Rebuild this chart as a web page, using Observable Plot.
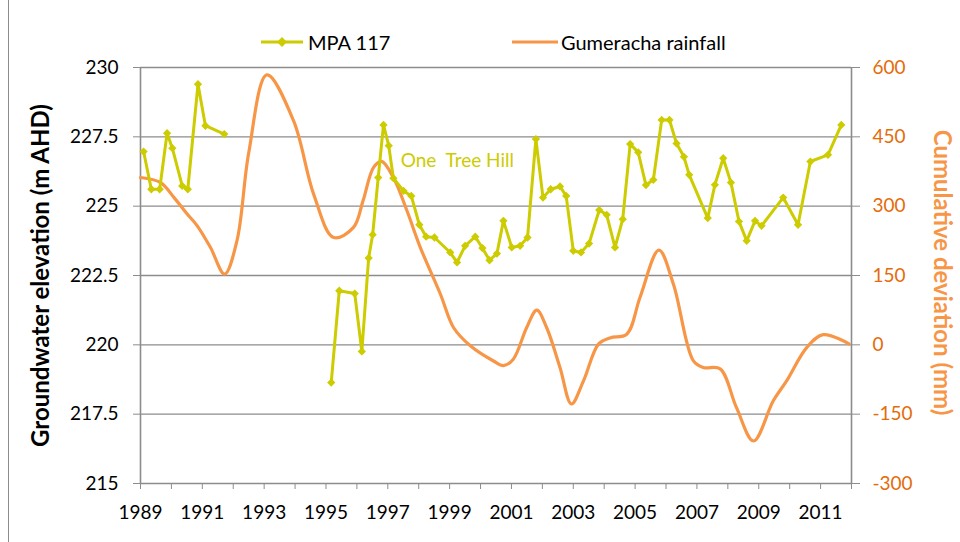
<!DOCTYPE html>
<html>
<head>
<meta charset="utf-8">
<script src="https://cdn.jsdelivr.net/npm/d3@7"></script>
<script src="https://cdn.jsdelivr.net/npm/@observablehq/plot@0.6"></script>
<style>
  body { margin: 0; background: #fff; }
  #wrap { position: relative; width: 960px; height: 542px; overflow: hidden; font-family: Lato, sans-serif; }
  #border { position: absolute; left: 8px; top: 0; width: 1px; height: 542px; background: #8c8c8c; }
  .leg { position: absolute; top: 30px; height: 24px; line-height: 24px; font-size: 20px; color: #000; white-space: nowrap; }
  .legsw { position: absolute; top: 30px; }
  #chart { position: absolute; left: 0; top: 0; }
</style>
</head>
<body>
<div id="wrap">
  <div id="chart"></div>
  <div id="border"></div>
  <svg class="legsw" style="left:261px" width="42" height="24"><line x1="0" x2="42" y1="12" y2="12" stroke="#CCCC00" stroke-width="3"/><rect x="17.5" y="8.5" width="7" height="7" fill="#CCCC00" transform="rotate(45 21 12)"/></svg>
  <div class="leg" style="left:308px">MPA 117</div>
  <svg class="legsw" style="left:512px" width="46" height="24"><line x1="0" x2="46" y1="12" y2="12" stroke="#F79646" stroke-width="3"/></svg>
  <div class="leg" style="left:561px">Gumeracha rainfall</div>
</div>
<script>
// ---- data ----
const mpaYear = [1989.1, 1989.35, 1989.62, 1989.86, 1990.03, 1990.35, 1990.53, 1990.86, 1991.10, 1991.71,
  1995.17, 1995.43, 1995.93, 1996.16, 1996.38, 1996.51, 1996.69, 1996.86, 1997.03, 1997.18, 1997.51, 1997.76,
  1998.02, 1998.24, 1998.51, 1999.02, 1999.24, 1999.50, 1999.83, 2000.06, 2000.29, 2000.53, 2000.74, 2001.01,
  2001.28, 2001.52, 2001.79, 2002.02, 2002.27, 2002.57, 2002.77, 2003.0, 2003.25, 2003.51, 2003.84, 2004.08,
  2004.35, 2004.60, 2004.84, 2005.10, 2005.35, 2005.59, 2005.86, 2006.11, 2006.34, 2006.58, 2006.75, 2007.35,
  2007.58, 2007.85, 2008.10, 2008.36, 2008.61, 2008.88, 2009.09, 2009.79, 2010.27, 2010.67, 2011.24, 2011.67];
const mpaLevel = [226.97, 225.61, 225.61, 227.63, 227.09, 225.73, 225.61, 229.4, 227.9, 227.6,
  218.64, 221.95, 221.85, 219.76, 223.13, 223.97, 226.03, 227.93, 227.18, 226.01, 225.55, 225.37,
  224.33, 223.9, 223.87, 223.33, 222.97, 223.57, 223.9, 223.49, 223.05, 223.29, 224.47, 223.51,
  223.57, 223.87, 227.42, 225.31, 225.61, 225.71, 225.37, 223.39, 223.33, 223.65, 224.86, 224.69,
  223.51, 224.53, 227.24, 226.94, 225.76, 225.95, 228.11, 228.11, 227.26, 226.78, 226.13, 224.57,
  225.77, 226.73, 225.85, 224.45, 223.75, 224.47, 224.29, 225.31, 224.33, 226.61, 226.85, 227.93];

const rainYear = [1989.0, 1989.65, 1990.08, 1990.51, 1990.83, 1991.26, 1991.72, 1992.12, 1992.5, 1993.09,
  1993.95, 1994.6, 1995.25, 1995.89, 1996.2, 1996.54, 1996.8, 1997.18, 1997.62, 1998.05, 1998.7, 1999.13,
  1999.67, 2000.42, 2000.74, 2001.06, 2001.49, 2001.82, 2002.14, 2002.57, 2002.94, 2003.33, 2003.82, 2004.19,
  2004.73, 2005.16, 2005.77, 2006.24, 2006.88, 2007.2, 2007.75, 2008.28, 2008.83, 2009.47, 2009.9, 2010.55,
  2011.08, 2011.92];
const rainDev = [362, 351, 319, 283, 258, 211, 153, 225, 415, 584,
  485, 326, 232, 254, 312, 384, 397, 362, 290, 211, 110, 37,
  -2, -35, -45, -31, 37, 75, 37, -49, -128, -78, 2, 15,
  23, 103, 205, 131, -34, -49, -52, -136, -208, -121, -78, -6,
  22, 2];

const leftTicks = [215, 217.5, 220, 222.5, 225, 227.5, 230];
const rightTicks = [-300, -150, 0, 150, 300, 450, 600];
const yearTicks = d3.range(1989, 2013);
const labelYears = [1989, 1991, 1993, 1995, 1997, 1999, 2001, 2003, 2005, 2007, 2009, 2011];
const annotation = [{year: 1999.25, level: 226.64, text: "One\u00a0 Tree Hill"}];

// ---- build ----
const leftMin = 215, leftMax = 230, rightMin = -300, rightMax = 600;
const toLeft = v => leftMin + (v - rightMin) / (rightMax - rightMin) * (leftMax - leftMin);
const fromLeft = y => rightMin + (y - leftMin) / (leftMax - leftMin) * (rightMax - rightMin);

const mpa = mpaYear.map((x, i) => ({x, y: mpaLevel[i], seg: x < 1993 ? "a" : "b"}));
const rain = rainYear.map((x, i) => ({x, v: rainDev[i]}));

const grey = "#8c8c8c";
const chart = Plot.plot({
  width: 960,
  height: 542,
  marginLeft: 140,
  marginRight: 109,
  marginTop: 67,
  marginBottom: 59,
  style: {fontFamily: "Lato, sans-serif", fontSize: "19px", background: "transparent", color: "#000"},
  x: {domain: [1989, 2012]},
  y: {domain: [leftMin, leftMax]},
  marks: [
    Plot.ruleY(leftTicks.filter(d => d > leftMin), {stroke: grey, strokeWidth: 1.4}),
    Plot.ruleY([leftMin], {stroke: grey, strokeWidth: 1.6}),
    Plot.ruleX([1989, 2012], {stroke: grey, strokeWidth: 1.6}),
    Plot.axisY({ticks: leftTicks, tickSize: 7, tickPadding: 15, stroke: grey, fill: "#000", fontSize: 19, label: null, tickFormat: d => String(d)}),
    Plot.axisY({anchor: "right", ticks: leftTicks, tickSize: 8, tickPadding: 13, stroke: grey, fill: "#E46C0A", fontSize: 19, label: null, tickFormat: d => String(Math.round(fromLeft(d)))}),
    Plot.axisX({ticks: yearTicks, tickSize: 6, tickPadding: 16, stroke: grey, fill: "#000", fontSize: 19, label: null,
      tickFormat: d => labelYears.includes(d) ? String(d) : ""}),
    Plot.line(rain, {x: "x", y: d => toLeft(d.v), curve: "catmull-rom", stroke: "#F79646", strokeWidth: 3.2}),
    Plot.line(mpa, {x: "x", y: "y", z: "seg", stroke: "#CCCC00", strokeWidth: 3}),
    Plot.dot(mpa, {x: "x", y: "y", symbol: "square", r: 3.3, rotate: 45, fill: "#CCCC00", stroke: "none"}),
    Plot.text(annotation, {x: "year", y: "level", text: "text", fill: "#CCCC00", fontSize: 19}),
    Plot.text(["Groundwater elevation (m AHD)"], {text: d => d, frameAnchor: "left", textAnchor: "middle", dx: -99, rotate: -90, fontWeight: "bold", fontSize: 24, fill: "#000"}),
    Plot.text(["Cumulative deviation (mm)"], {text: d => d, frameAnchor: "right", textAnchor: "middle", dx: 90, dy: -3, rotate: 90, fontWeight: "bold", fontSize: 24, fill: "#F79646"})
  ]
});
document.getElementById("chart").appendChild(chart);
</script>
</body>
</html>
